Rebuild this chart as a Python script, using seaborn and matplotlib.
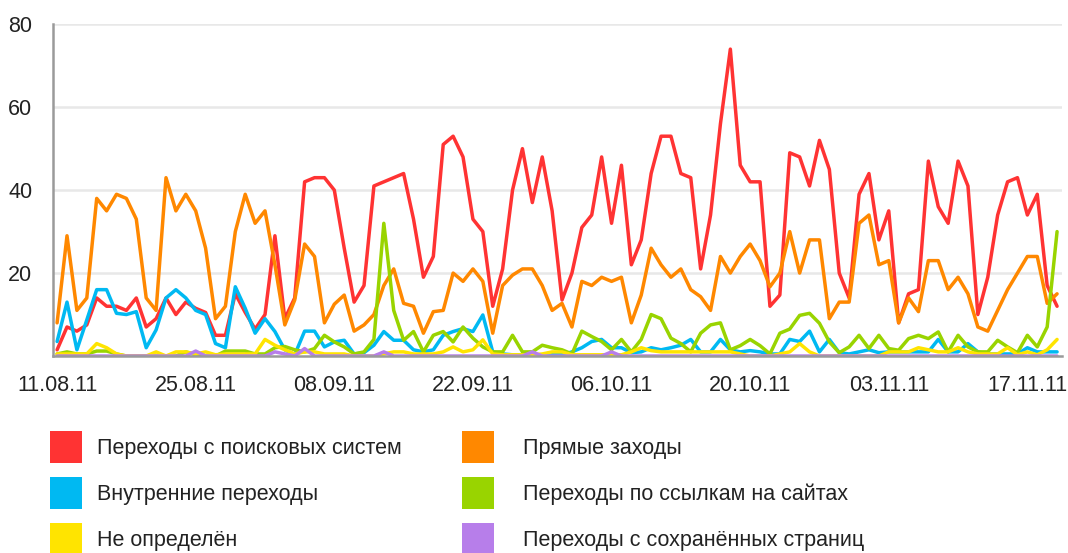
import pandas as pd
import numpy as np
import matplotlib
matplotlib.use("Agg")
import matplotlib.pyplot as plt
import matplotlib.dates as mdates
from matplotlib.patches import Patch
import seaborn as sns

# Источники трафика по дням, 11.08.11 - 20.11.11
start_date = "2011-08-11"

search = [1.5, 7, 6, 7.5, 14, 12, 12, 11, 14, 7,
          9, 14, 10, 13, 11.5, 10.5, 5, 5, 15, 10.5,
          6.5, 10, 29, 9, 14, 42, 43, 43, 40, 26,
          13, 17, 41, 42, 43, 44, 33, 19, 24, 51,
          53, 48, 33, 30, 12, 21, 40, 50, 37, 48,
          35, 13.5, 20, 31, 34, 48, 32, 46, 22, 28,
          44, 53, 53, 44, 43, 21, 34, 56, 74, 46,
          42, 42, 12, 14.7, 49, 48, 41, 52, 45, 20,
          14, 39, 44, 28, 35, 8, 15, 16, 47, 36,
          32, 47, 41, 10, 19, 34, 42, 43, 34, 39,
          17, 12]

direct = [8, 29, 11, 14, 38, 35, 39, 38, 33, 14,
          11, 43, 35, 39, 35, 26, 9, 12, 30, 39,
          32, 35, 22, 7.5, 13.5, 27, 24, 8, 12.5, 14.7,
          6, 7.5, 10, 17, 21, 12.7, 12, 5.5, 10.7, 11,
          20, 18, 21, 18, 5.5, 17, 19.5, 21, 21, 17,
          11, 12.7, 7, 18, 17, 19, 18, 19, 8, 14.7,
          26, 22, 19, 21, 16, 14.3, 11, 24, 20, 24,
          27, 23, 16.7, 20, 30, 20, 28, 28, 9, 13,
          13, 32, 34, 22, 23, 8, 14, 10.7, 23, 23,
          16, 19, 15, 7, 6, 11, 16, 20, 24, 24,
          12.7, 15]

internal = [3.5, 13, 1.5, 8.7, 16, 16, 10.3, 10, 10.7, 2,
            6.3, 14, 16, 14, 11, 10, 3, 2, 16.7, 11.5,
            5.5, 9, 5.9, 1.5, 0.3, 6, 6, 2.2, 3.4, 3.8,
            0.5, 0.8, 2.6, 5.9, 3.8, 3.8, 1.5, 1, 1.5, 5,
            5.9, 6.6, 5.9, 9.9, 1, 0.5, 0.3, 0.3, 0.3, 0.3,
            0.3, 0.3, 1, 2, 3.5, 4, 2, 2, 0.8, 1,
            2, 1.5, 2, 2.6, 4, 1, 1, 4, 1.5, 1,
            1.3, 1, 0.5, 0.5, 4, 3.5, 6, 1, 4, 0.8,
            0.5, 1, 1.5, 0.8, 1, 1, 1, 1, 1, 4,
            1, 1, 3, 1, 0.5, 0.5, 0.5, 0.5, 2, 1,
            1, 1]

links = [0.5, 1, 0.5, 0.5, 1.2, 1.2, 0.5, 0, 0, 0,
         0, 0, 0, 1, 0.3, 0, 0, 1.2, 1.2, 1.2,
         0.5, 0.5, 2, 2.3, 1.5, 1, 1.8, 5, 3.4, 2.2,
         0.5, 1, 4, 32, 11, 3.8, 5.9, 1, 5, 5.9,
         3.4, 7, 4.3, 2.2, 1, 1, 5, 1, 1, 2.6,
         2, 1.5, 0.5, 6, 4.7, 3.5, 1.5, 4, 1, 4,
         10, 9, 4.3, 3, 1, 5.5, 7.5, 8, 1.5, 2.5,
         4, 2.5, 0.5, 5.5, 6.5, 9.8, 10.3, 7.9, 3.4, 0.8,
         2.2, 5, 1.8, 5, 1.8, 1.4, 4.2, 5, 4.2, 5.8,
         1, 5, 2.2, 1, 1, 3.8, 2.2, 0.8, 5, 2.2,
         7, 30]

unknown = [0.5, 0.5, 0.5, 0.5, 3, 2, 0.5, 0, 0, 0,
           1, 0, 1, 1, 0.5, 1, 0.3, 0.5, 0.5, 0.5,
           0.5, 4, 2.6, 1.5, 0.5, 1, 1, 0.5, 0.5, 0.5,
           0, 0, 0, 0.5, 1, 1, 0.5, 0.5, 0.5, 1,
           2.2, 1, 1.5, 3.9, 0.5, 0.3, 0.3, 0.3, 0.3, 0.5,
           1, 1, 0.3, 0.3, 0.3, 0.3, 0.3, 0.3, 1, 2,
           1.3, 1, 1, 1, 1, 1, 1, 1, 1, 0.5,
           0, 0, 0, 0.5, 1, 3, 1, 0, 0, 0,
           0, 0, 0, 0, 1, 1, 1, 2, 1.5, 1,
           1, 2, 1, 0.5, 0.5, 0.5, 2, 0.3, 1, 0.3,
           1.5, 4]

saved = [0] * 102
saved[14] = 1.2
saved[22] = 1
saved[23] = 0.5
saved[25] = 1.8
saved[33] = 1
saved[48] = 1
saved[56] = 1

series_names = ["Переходы с поисковых систем", "Прямые заходы",
                "Внутренние переходы", "Переходы по ссылкам на сайтах",
                "Не определён", "Переходы с сохранённых страниц"]
series_values = [search, direct, internal, links, unknown, saved]
colors = ["#FF3333", "#FF8800", "#00B9F2", "#99D400", "#FFE400", "#B77EEA"]

tick_dates = ["2011-08-11", "2011-08-25", "2011-09-08", "2011-09-22",
              "2011-10-06", "2011-10-20", "2011-11-03", "2011-11-17"]
y_ticks = [20, 40, 60, 80]

dates = pd.date_range(start_date, periods=len(search), freq="D")
df = pd.concat([pd.DataFrame({"date": dates, "value": v, "source": n})
                for n, v in zip(series_names, series_values)], ignore_index=True)

sns.set_style("white")
plt.rcParams["font.family"] = ["Liberation Sans", "DejaVu Sans"]

fig = plt.figure(figsize=(10.68, 5.53), dpi=100)
ax = fig.add_axes([0.0496, 0.3562, 0.9448, 0.6000])

sns.lineplot(data=df, x="date", y="value", hue="source", hue_order=series_names,
             palette=colors, linewidth=2.5, ax=ax, legend=False)

ax.set_ylim(0, 80)
ax.set_xlim(dates[0] - pd.Timedelta(hours=10), dates[-1] + pd.Timedelta(hours=12))
ax.set_yticks(y_ticks)
ax.set_xticks(pd.to_datetime(tick_dates))
ax.xaxis.set_major_formatter(mdates.DateFormatter("%d.%m.%y"))
ax.set_xlabel("")
ax.set_ylabel("")

ax.grid(axis="y", color="#e8e8e8", linewidth=1.8)
ax.set_axisbelow(True)
for side in ["top", "right"]:
    ax.spines[side].set_visible(False)
for side in ["left", "bottom"]:
    ax.spines[side].set_color("#9a9a9a")
    ax.spines[side].set_linewidth(1.8)

ax.tick_params(axis="y", length=9, width=1.8, color="#9a9a9a", pad=6,
               labelsize=15.5, labelcolor="#222222")
ax.tick_params(axis="x", length=8, width=1.8, color="#9a9a9a", pad=6,
               labelsize=15.5, labelcolor="#222222")

# легенда: две колонки по три строки
legend_style = dict(loc="upper left", frameon=False, fontsize=15.5,
                    handlelength=1.49, handleheight=1.91, labelspacing=0.65,
                    borderpad=0, borderaxespad=0, labelcolor="#222222")
columns = [([0, 2, 4], 0.0468, 0.7), ([1, 3, 5], 0.4326, 1.35)]
for idx, x0, pad in columns:
    handles = [Patch(facecolor=colors[i], edgecolor="none") for i in idx]
    labels = [series_names[i] for i in idx]
    fig.legend(handles, labels, bbox_to_anchor=(x0, 0.2206),
               handletextpad=pad, **legend_style)

fig.savefig("out.png", dpi=100)
